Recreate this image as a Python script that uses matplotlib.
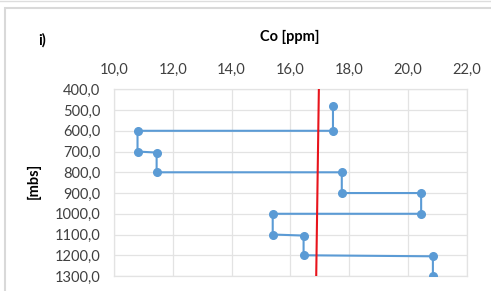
import matplotlib
matplotlib.use('Agg')
import matplotlib.pyplot as plt
from matplotlib.patches import Rectangle
from matplotlib.lines import Line2D
from matplotlib.ticker import FuncFormatter

# Co profile (ppm) vs depth (mbs), step style
co_ppm = [17.45, 17.45, 10.8, 10.8, 11.45, 11.45, 17.75, 17.75,
          20.45, 20.45, 15.4, 15.4, 16.45, 16.45, 20.85, 20.85]
depth = [480, 600, 600, 700, 705, 800, 800, 900,
         900, 1000, 1000, 1100, 1105, 1200, 1205, 1300]

# red reference line
ref_ppm = [16.97, 16.88]
ref_depth = [400, 1300]

xticks = [10, 12, 14, 16, 18, 20, 22]
yticks = [400, 500, 600, 700, 800, 900, 1000, 1100, 1200, 1300]

plt.rcParams['font.family'] = ['Lato', 'DejaVu Sans']

fig = plt.figure(figsize=(4.91, 2.91), dpi=100)
ax = fig.add_axes([0.2322, 0.0515, 0.7183, 0.6416])

ax.plot(co_ppm, depth, color='#5B9BD5', lw=1.5, marker='o', ms=5.5, zorder=3)
ax.plot(ref_ppm, ref_depth, color='#E8141C', lw=1.5, zorder=4)

ax.set_xlim(10, 22)
ax.set_ylim(1300, 400)
ax.set_xticks(xticks)
ax.set_yticks(yticks)
fmt = FuncFormatter(lambda v, p: f"{v:.1f}".replace('.', ','))
ax.xaxis.set_major_formatter(fmt)
ax.yaxis.set_major_formatter(fmt)
ax.xaxis.tick_top()
ax.tick_params(length=0, labelsize=10.5, colors='#404040')
ax.tick_params(axis='x', pad=9)
ax.tick_params(axis='y', pad=10)
ax.grid(True, color='#E3E3E3', lw=0.9)
for s in ax.spines.values():
    s.set_color('#E3E3E3')
    s.set_linewidth(0.9)

fig.text(0.591, 0.873, 'Co [ppm]', ha='center', va='center',
         fontsize=10.5, fontweight='bold', color='black')
fig.text(0.086, 0.862, 'i)', ha='center', va='center',
         fontsize=10.5, fontweight='bold', color='black')
fig.text(0.068, 0.380, '[mbs]', ha='center', va='center', rotation=90,
         fontsize=10.5, fontweight='bold', color='black')

# chart frame pieces visible in the crop
fig.patches.append(Rectangle((5 / 491, -0.1), 1.2, 1 - 8 / 291 + 0.1,
                             transform=fig.transFigure, fill=False,
                             edgecolor='#D9D9D9', lw=1.5))
fig.lines.append(Line2D([0, 1], [0.998, 0.998], transform=fig.transFigure,
                        color='#DDDDDD', lw=1))

fig.savefig('out.png', dpi=100)
